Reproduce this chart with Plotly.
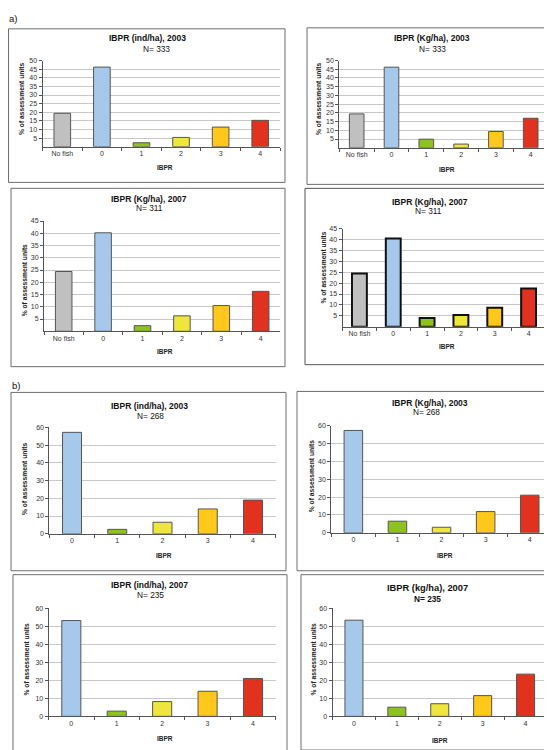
import plotly.graph_objects as go

W, H = 552, 750

# ---------------- data ----------------
cats_a = ["No fish", "0", "1", "2", "3", "4"]
cats_b = ["0", "1", "2", "3", "4"]

a_ind_2003 = [19.4, 46.2, 2.3, 5.4, 11.4, 15.3]
a_kg_2003 = [19.4, 46.2, 4.9, 2.1, 9.3, 16.9]
a_kg_2007_left = [24.4, 40.2, 2.3, 6.3, 10.5, 16.3]
a_kg_2007_right = [24.4, 40.5, 4.0, 5.4, 8.7, 17.6]
b_ind_2003 = [57.2, 2.5, 6.5, 14.0, 19.0]
b_kg_2003 = [57.4, 6.5, 3.1, 11.9, 21.1]
b_ind_2007 = [53.1, 2.9, 8.2, 13.9, 21.0]
b_kg_2007 = [53.3, 5.1, 7.0, 11.5, 23.4]

titles = ["IBPR (ind/ha), 2003", "IBPR (Kg/ha), 2003",
          "IBPR (Kg/ha), 2007", "IBPR (Kg/ha), 2007",
          "IBPR (ind/ha), 2003", "IBPR (Kg/ha), 2003",
          "IBPR (ind/ha), 2007", "IBPR (kg/ha), 2007"]
n_labels = ["N= 333", "N= 333", "N= 311", "N= 311",
            "N= 268", "N= 268", "N= 235", "N= 235"]
x_title = "IBPR"
y_title = "% of assessment units"

colors_a = ["#C0C0C0", "#A6C8EA", "#8EC31D", "#EEE63C", "#FFC81A", "#E0321F"]
colors_b = colors_a[1:]

FONT = "Liberation Sans, Arial, sans-serif"

# ---------------- layout geometry (pixels) ----------------
# plot area: x0, x1, ytop, ybottom
panels = [
    dict(cats=cats_a, vals=a_ind_2003, cols=colors_a, x0=34.5, x1=272.0, yt=49, yb=136, ymax=50, dt=5, zero=False,
         box=(0.5, 17, 277, 172), t=(139.5, 26), n=(148.7, 37), xt=(156.7, 157), yl=(13.3, 87.5)),
    dict(cats=cats_a, vals=a_kg_2003, cols=colors_a, x0=331.3, x1=540.1, yt=49, yb=137, ymax=50, dt=5, zero=False,
         box=(299, 16, 551, 174), t=(424.2, 26), n=(424.7, 37), xt=(438.5, 159), yl=(310.3, 87.5)),
    dict(cats=cats_a, vals=a_kg_2007_left, cols=colors_a, x0=36.0, x1=272.4, yt=211, yb=322.3, ymax=45, dt=5, zero=False,
         box=(3, 178, 277, 358), t=(141.5, 189), n=(141.3, 198.3), xt=(157, 342.7), yl=(16, 270.8)),
    dict(cats=cats_a, vals=a_kg_2007_right, cols=colors_a, x0=334.5, x1=537.5, yt=218.7, yb=317.7, ymax=45, dt=5, zero=False,
         box=(297, 178, 550, 356), t=(422, 191.7), n=(420.8, 200.7), xt=(438.5, 337.7), yl=(316, 258), thick=True),
    dict(cats=cats_b, vals=b_ind_2003, cols=colors_b, x0=41.4, x1=267.6, yt=419.3, yb=526.7, ymax=60, dt=10, zero=True,
         box=(3, 384, 278, 564), t=(141, 397.3), n=(142.2, 407.7), xt=(155.5, 548.3), yl=(16.7, 471.7)),
    dict(cats=cats_b, vals=b_kg_2003, cols=colors_b, x0=323.3, x1=543.8, yt=417.7, yb=525.7, ymax=60, dt=10, zero=True,
         box=(289, 383, 551, 564), t=(421.5, 394.3), n=(418.2, 403.7), xt=(437, 548.3), yl=(304.3, 468.3)),
    dict(cats=cats_b, vals=b_ind_2007, cols=colors_b, x0=40.6, x1=267.7, yt=601.7, yb=711, ymax=60, dt=10, zero=True,
         box=(5, 568, 279, 749), t=(141.5, 578.3), n=(142.5, 588.3), xt=(156.7, 733.3), yl=(18.3, 653.3)),
    dict(cats=cats_b, vals=b_kg_2007, cols=colors_b, x0=324.5, x1=539.0, yt=601.7, yb=711, ymax=60, dt=10, zero=True,
         box=(293, 568, 545, 745), t=(419.5, 581.7), n=(419.3, 592.7), xt=(431.8, 735), yl=(305.3, 653.3),
         big_title=True),
]


def px(x):
    return x / W


def py(y):
    return 1 - y / H


fig = go.Figure()
shapes = []
annotations = []

for i, p in enumerate(panels, start=1):
    sfx = "" if i == 1 else str(i)
    thick = p.get("thick", False)
    fig.add_trace(go.Bar(
        x=p["cats"], y=p["vals"],
        marker=dict(color=p["cols"],
                    line=dict(color="#111111" if thick else "#555555", width=2 if thick else 1)),
        width=0.42 if not thick else 0.44,
        xaxis="x" + sfx, yaxis="y" + sfx,
        showlegend=False, hoverinfo="x+y",
    ))
    if p["zero"]:
        tv = list(range(0, p["ymax"] + 1, p["dt"]))
    else:
        tv = list(range(p["dt"], p["ymax"] + 1, p["dt"]))
    n = len(p["cats"])
    fig.update_layout(**{
        "xaxis" + sfx: dict(
            domain=[px(p["x0"]), px(p["x1"])], anchor="y" + sfx,
            type="category", range=[-0.5, n - 0.5],
            showline=True, linecolor="#555555", linewidth=1,
            ticks="outside", tickson="boundaries", ticklen=3, tickcolor="#555555",
            showgrid=False, zeroline=False, fixedrange=True,
            tickfont=dict(family=FONT, size=7, color="#333333"),
        ),
        "yaxis" + sfx: dict(
            domain=[py(p["yb"]), py(p["yt"])], anchor="x" + sfx,
            range=[0, p["ymax"]], tickvals=tv,
            showline=True, linecolor="#555555", linewidth=1,
            ticks="outside", ticklen=3, tickcolor="#555555",
            showgrid=True, gridcolor="#C8C8C8", gridwidth=1,
            zeroline=False, fixedrange=True,
            tickfont=dict(family=FONT, size=7, color="#333333"),
        ),
    })
    x0, y0, x1, y1 = p["box"]
    shapes.append(dict(type="rect", xref="paper", yref="paper",
                       x0=px(x0), x1=px(x1), y0=py(y1), y1=py(y0),
                       line=dict(color="#555555" if thick else "#6E6E6E", width=1),
                       fillcolor="rgba(0,0,0,0)", layer="below"))
    big = p.get("big_title", False)
    annotations.append(dict(text="<b>%s</b>" % titles[i - 1], x=px(p["t"][0]), y=py(p["t"][1]),
                            xref="paper", yref="paper", xanchor="center", yanchor="middle",
                            showarrow=False, font=dict(family=FONT, size=9.3 if big else 8.5, color="#111111")))
    annotations.append(dict(text=("<b>%s</b>" % n_labels[i - 1]) if big else n_labels[i - 1],
                            x=px(p["n"][0]), y=py(p["n"][1]),
                            xref="paper", yref="paper", xanchor="center", yanchor="middle",
                            showarrow=False, font=dict(family=FONT, size=8.3, color="#111111")))
    annotations.append(dict(text="<b>%s</b>" % x_title, x=px(p["xt"][0]), y=py(p["xt"][1]),
                            xref="paper", yref="paper", xanchor="center", yanchor="middle",
                            showarrow=False, font=dict(family=FONT, size=6.5, color="#222222")))
    annotations.append(dict(text="<b>%s</b>" % y_title, x=px(p["yl"][0]), y=py(p["yl"][1]),
                            xref="paper", yref="paper", xanchor="center", yanchor="middle",
                            textangle=-90, showarrow=False,
                            font=dict(family=FONT, size=6.7, color="#222222")))

annotations.append(dict(text="a)", x=px(5), y=py(7), xref="paper", yref="paper",
                        xanchor="center", yanchor="middle", showarrow=False,
                        font=dict(family=FONT, size=9.5, color="#111111")))
annotations.append(dict(text="b)", x=px(7.5), y=py(376.7), xref="paper", yref="paper",
                        xanchor="center", yanchor="middle", showarrow=False,
                        font=dict(family=FONT, size=9.5, color="#111111")))

fig.update_layout(
    width=W, height=H,
    margin=dict(l=0, r=0, t=0, b=0),
    paper_bgcolor="white", plot_bgcolor="white",
    bargap=0.58,
    shapes=shapes, annotations=annotations,
    font=dict(family=FONT),
)

fig.write_html("out.html", config={"displayModeBar": False})
